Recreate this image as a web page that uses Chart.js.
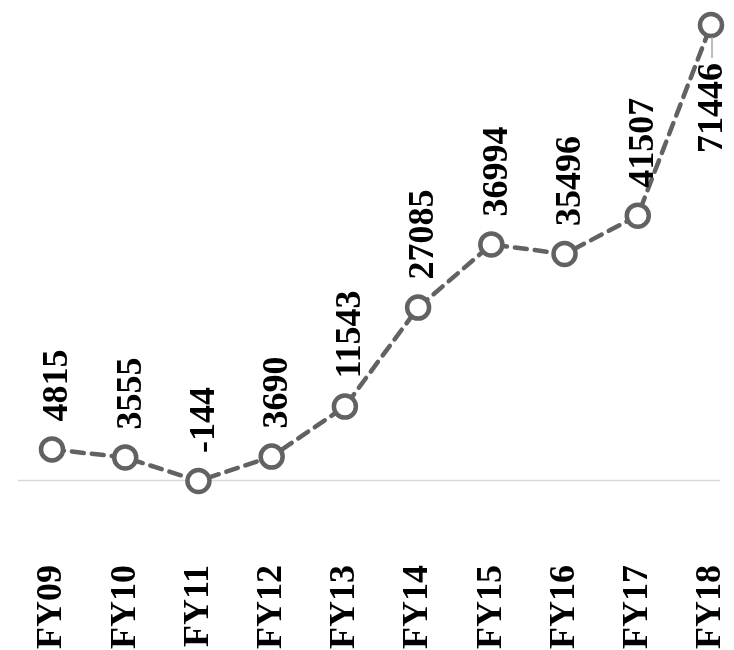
<!DOCTYPE html>
<html>
<head>
<meta charset="utf-8">
<script src="https://cdn.jsdelivr.net/npm/chart.js@4/dist/chart.umd.min.js"></script>
<style>
  html, body { margin: 0; padding: 0; background: #fff; }
  #wrap { width: 734px; height: 650px; }
</style>
</head>
<body>
<div id="wrap"><canvas id="myChart"></canvas></div>
<script>
var years = ['FY09', 'FY10', 'FY11', 'FY12', 'FY13', 'FY14', 'FY15', 'FY16', 'FY17', 'FY18'];
var values = [4815, 3555, -144, 3690, 11543, 27085, 36994, 35496, 41507, 71446];

var serif = "'Liberation Serif', 'Times New Roman', serif";
var lineGrey = '#626262';

// light rule at zero, a little wider than the plot
var zeroLine = {
    id: 'zeroLine',
    beforeDatasetsDraw: function (chart) {
        var ctx = chart.ctx;
        var y = Math.round(chart.scales.y.getPixelForValue(0)) + 0.5;
        ctx.save();
        ctx.strokeStyle = '#d9d9d9';
        ctx.lineWidth = 1.5;
        ctx.beginPath();
        ctx.moveTo(chart.chartArea.left - 34, y);
        ctx.lineTo(chart.chartArea.right + 9, y);
        ctx.stroke();
        ctx.restore();
    }
};

// vertical value labels above each point; the last one sits below with a leader
var valueLabels = {
    id: 'valueLabels',
    afterDatasetsDraw: function (chart) {
        var ctx = chart.ctx;
        var pts = chart.getDatasetMeta(0).data;
        ctx.save();
        ctx.font = 'bold 36px ' + serif;
        ctx.fillStyle = '#000';
        ctx.textBaseline = 'middle';
        pts.forEach(function (p, i) {
            var txt = String(values[i]);
            ctx.save();
            if (i === pts.length - 1) {
                ctx.strokeStyle = '#a6a6a6';
                ctx.lineWidth = 1.5;
                ctx.beginPath();
                ctx.moveTo(p.x + 1, p.y + 12);
                ctx.lineTo(p.x + 1, p.y + 33);
                ctx.stroke();
                ctx.translate(p.x + 2, p.y + 38);
                ctx.rotate(-Math.PI / 2);
                ctx.textAlign = 'right';
            } else {
                ctx.translate(p.x + 6, p.y - 28);
                ctx.rotate(-Math.PI / 2);
                ctx.textAlign = 'left';
            }
            ctx.fillText(txt, 0, 0);
            ctx.restore();
        });
        ctx.restore();
    }
};

var ctx = document.getElementById('myChart').getContext('2d');
var myChart = new Chart(ctx, {
    type: 'line',
    data: {
        labels: years,
        datasets: [{
            data: values,
            borderColor: lineGrey,
            borderWidth: 4.5,
            borderDash: [12, 8],
            borderCapStyle: 'round',
            tension: 0,
            pointRadius: 11,
            pointBorderWidth: 4.5,
            pointBorderColor: lineGrey,
            pointBackgroundColor: '#fff',
            clip: false
        }]
    },
    options: {
        responsive: true,
        maintainAspectRatio: false,
        animation: false,
        layout: {
            padding: { left: 52, right: 23, top: 25, bottom: 0 }
        },
        plugins: {
            legend: { display: false },
            tooltip: { enabled: false }
        },
        scales: {
            x: {
                offset: false,
                grid: { display: false, drawTicks: false },
                border: { display: false },
                ticks: {
                    color: '#000',
                    font: { family: serif, weight: 'bold', size: 36 },
                    minRotation: 90,
                    maxRotation: 90,
                    autoSkip: false,
                    padding: 84
                },
                afterFit: function (scale) {
                    scale.height = 169;
                    scale.paddingLeft = 0;
                    scale.paddingRight = 0;
                }
            },
            y: {
                display: false,
                min: -144,
                max: 71446
            }
        }
    },
    plugins: [zeroLine, valueLabels]
});
</script>
</body>
</html>
